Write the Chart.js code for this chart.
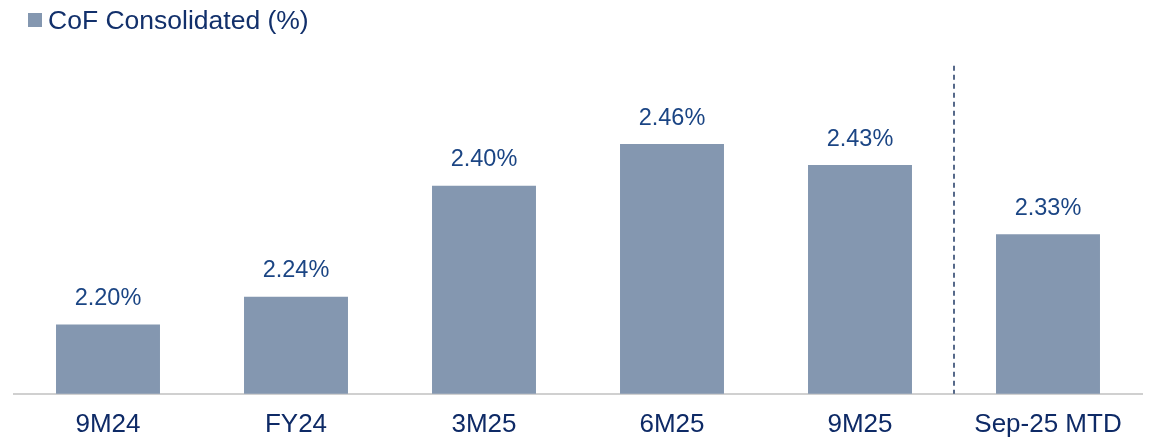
<!DOCTYPE html>
<html>
<head>
<meta charset="utf-8">
<script src="https://cdn.jsdelivr.net/npm/chart.js@4"></script>
<style>
html,body{margin:0;padding:0;background:#fff;}
#wrap{width:1158px;height:443px;position:relative;}
</style>
</head>
<body>
<div id="wrap"><canvas id="c" width="1158" height="443"></canvas></div>
<script>
const categories = ["9M24", "FY24", "3M25", "6M25", "9M25", "Sep-25 MTD"];
const cofValues = [2.20, 2.24, 2.40, 2.46, 2.43, 2.33];
const seriesName = "CoF Consolidated (%)";

const FONT = "'Liberation Sans', Arial, sans-serif";

const valueLabels = {
  id: 'valueLabels',
  afterDatasetsDraw(chart) {
    const ctx = chart.ctx;
    const meta = chart.getDatasetMeta(0);
    ctx.save();
    ctx.fillStyle = '#1B4584';
    ctx.font = "23.5px " + FONT;
    ctx.textAlign = 'center';
    ctx.textBaseline = 'bottom';
    meta.data.forEach((bar, i) => {
      ctx.fillText(cofValues[i].toFixed(2) + '%', bar.x, bar.y - 14);
    });
    ctx.restore();
  }
};

const divider = {
  id: 'divider',
  afterDatasetsDraw(chart) {
    const x = chart.scales.x;
    const y = chart.scales.y;
    const px = (x.getPixelForValue(4) + x.getPixelForValue(5)) / 2;
    const ctx = chart.ctx;
    ctx.save();
    ctx.strokeStyle = '#1F3864';
    ctx.lineWidth = 1.5;
    ctx.setLineDash([5, 4]);
    ctx.beginPath();
    ctx.moveTo(px, y.getPixelForValue(2.573));
    ctx.lineTo(px, chart.chartArea.bottom);
    ctx.stroke();
    ctx.restore();
  }
};

const customLegend = {
  id: 'customLegend',
  afterDraw(chart) {
    const ctx = chart.ctx;
    const ds = chart.data.datasets[0];
    ctx.save();
    ctx.fillStyle = ds.backgroundColor;
    ctx.fillRect(28, 13, 14, 14);
    ctx.fillStyle = '#12306B';
    ctx.font = "26.5px " + FONT;
    ctx.textAlign = 'left';
    ctx.textBaseline = 'middle';
    ctx.fillText(ds.label, 48, 22);
    ctx.restore();
  }
};

new Chart(document.getElementById('c'), {
  type: 'bar',
  data: {
    labels: categories,
    datasets: [{
      label: seriesName,
      data: cofValues,
      backgroundColor: '#8497B0',
      borderWidth: 0,
      categoryPercentage: 1,
      barPercentage: 0.553
    }]
  },
  options: {
    responsive: false,
    animation: false,
    devicePixelRatio: 1,
    layout: { padding: { left: 14, right: 16, top: 47, bottom: -12 } },
    plugins: {
      legend: { display: false },
      tooltip: { enabled: false }
    },
    scales: {
      x: {
        grid: { display: false, drawTicks: false },
        border: { display: true, color: '#D0D0D0', width: 2 },
        ticks: {
          color: '#0E2A66',
          font: { family: FONT, size: 26 },
          padding: 15
        }
      },
      y: {
        display: false,
        min: 2.10,
        max: 2.60
      }
    }
  },
  plugins: [valueLabels, divider, customLegend]
});
</script>
</body>
</html>
